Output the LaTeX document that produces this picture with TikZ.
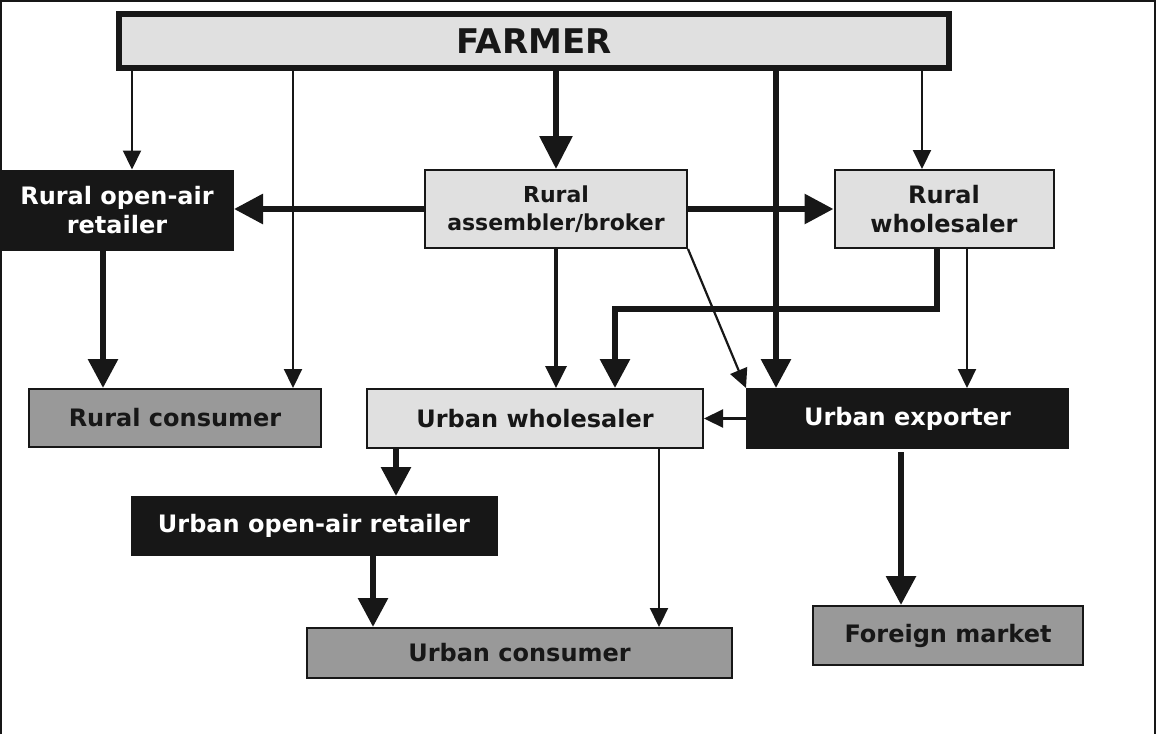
\documentclass[tikz,border=0pt]{standalone}
\usepackage{fontspec}
\setmainfont{DejaVu Sans}
\usetikzlibrary{arrows.meta}
\definecolor{lightbox}{gray}{0.88}
\definecolor{greybox}{gray}{0.6}
\definecolor{ink}{gray}{0.09}
\tikzset{
  box/.style={rectangle, draw=ink, line width=2pt, text=ink, align=center, inner sep=0pt,
    font=\bfseries\fontsize{24}{29}\selectfont},
  lightnode/.style={box, fill=lightbox},
  greynode/.style={box, fill=greybox},
  darknode/.style={box, fill=ink, text=white},
  fatline/.style={line width=6pt, draw=ink, -{Triangle[width=29pt,length=29pt]}},
  midline/.style={line width=3.5pt, draw=ink, -{Triangle[width=21pt,length=22pt]}},
  slimline/.style={line width=2.2pt, draw=ink, -{Triangle[width=18pt,length=19pt]}},
}
\begin{document}
\begin{tikzpicture}[x=1pt,y=-1pt]
      \useasboundingbox (0,0) rectangle (1157,734);
      \draw[line width=2pt, ink] (1,734) -- (1,1) -- (1155,1) -- (1155,734);
      \draw
        (534,41) node[lightnode, line width=5.5pt, minimum width=830pt, minimum height=54pt,
          font=\bfseries\fontsize{34}{38}\selectfont] (farmer) {FARMER}
        (117,210) node[darknode, minimum width=232pt, minimum height=79pt] (roar) {Rural open-air\\retailer}
        (556,209) node[lightnode, minimum width=262pt, minimum height=78pt,
          font=\bfseries\fontsize{22}{28}\selectfont] (rab) {Rural\\assembler/broker}
        (944,209) node[lightnode, minimum width=219pt, minimum height=78pt] (rw) {Rural\\wholesaler}
        (175,418) node[greynode, minimum width=292pt, minimum height=58pt] (rc) {Rural consumer}
        (535,418.5) node[lightnode, minimum width=336pt, minimum height=59pt] (uw) {Urban wholesaler}
        (907.5,418.5) node[darknode, minimum width=321pt, minimum height=59pt] (ue) {Urban exporter}
        (314,526) node[darknode, minimum width=365pt, minimum height=58pt] (uoar) {Urban open-air retailer}
        (519.5,653) node[greynode, minimum width=425pt, minimum height=50pt] (uc) {Urban consumer}
        (948,635.5) node[greynode, minimum width=270pt, minimum height=59pt] (fm) {Foreign market};
      \coordinate (bend) at (615,309);
      % from the farmer
      \draw[slimline] (farmer.south -| 132,0) to (roar.north -| 132,0);
      \draw[slimline] (farmer.south -| 293,0) to (rc.north -| 293,0);
      \draw[fatline, -{Triangle[width=32pt,length=33pt]}] (farmer.south -| rab.north) to (rab.north);
      \draw[fatline] (farmer.south -| 776,0) to (ue.north -| 776,0);
      \draw[slimline] (farmer.south -| 922,0) to (rw.north -| 922,0);
      % rural level
      \draw[fatline] (rab.west) to (roar.east |- rab.west);
      \draw[fatline] (rab.east) to (rw.west);
      \draw[midline] (rab.south) to (uw.north -| rab.south);
      \draw[slimline] (rab.south east) to (ue.north west);
      \draw[fatline] (rw.south -| 937,0) |- (bend) to (uw.north -| bend);
      \draw[slimline] (rw.south -| 967,0) to (ue.north -| 967,0);
      \draw[fatline] (roar.south -| 103,0) to (rc.north -| 103,0);
      % urban level
      \draw[slimline] (ue.west) to (uw.east);
      \draw[fatline, shorten <=3pt] (ue.south -| 901,0) to (fm.north -| 901,0);
      \draw[fatline] (uw.south -| 396,0) to (uoar.north -| 396,0);
      \draw[fatline] (uoar.south -| 373,0) to (uc.north -| 373,0);
      \draw[slimline] (uw.south -| 659,0) to (uc.north -| 659,0);
    \end{tikzpicture}
\end{document}
